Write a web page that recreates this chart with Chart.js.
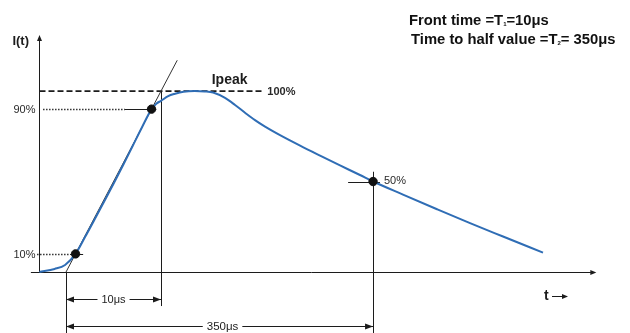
<!DOCTYPE html>
<html>
<head>
<meta charset="utf-8">
<script src="https://cdn.jsdelivr.net/npm/chart.js@4/dist/chart.umd.min.js"></script>
<style>
  html, body { margin: 0; padding: 0; background: #fff; }
  #c { display: block; }
</style>
</head>
<body>
<canvas id="c" width="630" height="333"></canvas>
<script>
// Impulse current waveform: time in μs (from the virtual origin), current in % of peak
const waveT = [-2.8, -1.2, -0.1, 1, 2, 3, 4, 5, 6, 7, 8, 9, 9.5, 10, 21.5, 32.5, 46, 64, 80, 93.5, 112.6, 128.7, 144.7, 160.7, 176.8, 200.8, 233, 265, 297, 329, 350, 398, 452.6, 505.5, 558.4, 622.5];
const waveI = [0, 1.7, 3.9, 10, 19.3, 29, 38.8, 48.8, 59, 69.5, 80, 90, 93, 94.6, 97.2, 98.5, 99.6, 100, 99.8, 99.2, 96.2, 92.3, 88.0, 83.9, 80.3, 75.6, 69.8, 64.3, 58.9, 53.6, 50, 42.8, 34.7, 27.0, 19.6, 10.7];

// Characteristic times
const virtualOrigin = 0;   // μs
const frontTime = 10;      // T1, μs
const halfTime = 350;      // T2, μs

// Reference levels (% of peak)
const levelLow = 10;
const levelHigh = 90;
const levelPeak = 100;
const levelHalf = 50;
const levelLabels = ['10%', '90%', '100%', '50%'];

// Marked points on the wave
const markerT = [1, 9, 350];
const markerI = [10, 90, 50];

// Front tangent through the 10% / 90% points, extended past the peak
const tangentT = [0, 10, 36];
const tangentI = [0, 100, 117];

// Title lines: [before subscript, subscript, after subscript]
const titleLine1 = ['Front time =T', '1', '=10μs'];
const titleLine2 = ['Time to half value =T', '2', '= 350μs'];

// The time axis is drawn schematically: the front is stretched, the tail compressed.
// Knots are [time value, fraction of the axis length].
const timeKnots = [[-6.95, 0], [10, 0.2556], [762, 1]];

function timeToDecimal(v) {
  const k = timeKnots;
  let i = 0;
  while (i < k.length - 2 && v > k[i + 1][0]) i++;
  const [v0, d0] = k[i], [v1, d1] = k[i + 1];
  return d0 + (v - v0) / (v1 - v0) * (d1 - d0);
}
function decimalToTime(d) {
  const k = timeKnots;
  let i = 0;
  while (i < k.length - 2 && d > k[i + 1][1]) i++;
  const [v0, d0] = k[i], [v1, d1] = k[i + 1];
  return v0 + (d - d0) / (d1 - d0) * (v1 - v0);
}

class PiecewiseTimeScale extends Chart.LinearScale {
  getPixelForValue(value) {
    return this.getPixelForDecimal(timeToDecimal(value));
  }
  getValueForPixel(pixel) {
    return decimalToTime(this.getDecimalForPixel(pixel));
  }
}
PiecewiseTimeScale.id = 'piecewiseTime';
PiecewiseTimeScale.defaults = Chart.LinearScale.defaults;
Chart.register(PiecewiseTimeScale);

const FONT = "'Liberation Sans', Arial, 'DejaVu Sans', sans-serif";
const INK = '#1c1c1c';

function snap(v) { return Math.round(v) + 0.5; }

function seg(ctx, x0, y0, x1, y1) {
  ctx.beginPath();
  ctx.moveTo(x0, y0);
  ctx.lineTo(x1, y1);
  ctx.stroke();
}

function arrowHead(ctx, x, y, dir, len, half) {
  ctx.beginPath();
  ctx.moveTo(x, y);
  if (dir === 'right') { ctx.lineTo(x - len, y - half); ctx.lineTo(x - len, y + half); }
  else if (dir === 'left') { ctx.lineTo(x + len, y - half); ctx.lineTo(x + len, y + half); }
  else { ctx.lineTo(x - half, y + len); ctx.lineTo(x + half, y + len); }
  ctx.closePath();
  ctx.fill();
}

function dimension(ctx, x0, x1, yy, label, font, shift) {
  ctx.font = font;
  const w = ctx.measureText(label).width;
  const cx = (x0 + x1) / 2 + (shift || 0);
  const gap = 4;
  const y = snap(yy);
  seg(ctx, x0, y, cx - w / 2 - gap, y);
  seg(ctx, cx + w / 2 + gap, y, x1, y);
  arrowHead(ctx, x0, y, 'left', 8, 3);
  arrowHead(ctx, x1, y, 'right', 8, 3);
  ctx.textAlign = 'center';
  ctx.textBaseline = 'middle';
  ctx.fillText(label, cx, y);
}

function subscriptLine(ctx, parts, x, y, size) {
  ctx.textAlign = 'left';
  ctx.textBaseline = 'alphabetic';
  ctx.font = 'bold ' + size + 'px ' + FONT;
  ctx.fillText(parts[0], x, y);
  x += ctx.measureText(parts[0]).width;
  ctx.font = 'bold ' + Math.round(size * 0.42) + 'px ' + FONT;
  ctx.fillText(parts[1], x, y + 1);
  x += ctx.measureText(parts[1]).width;
  ctx.font = 'bold ' + size + 'px ' + FONT;
  ctx.fillText(parts[2], x, y);
}

const axisT = waveT[0];

const construction = {
  id: 'construction',
  beforeDatasetsDraw(chart) {
    const { ctx, scales: { x, y } } = chart;
    const X = v => x.getPixelForValue(v);
    const Y = v => y.getPixelForValue(v);
    const bottom = y.getPixelForValue(y.min);
    ctx.save();
    ctx.strokeStyle = INK;
    ctx.fillStyle = INK;
    ctx.lineWidth = 1;

    // axes
    const ax = snap(X(axisT));
    const ay = snap(Y(0));
    seg(ctx, ax, ay, ax, Y(131) + 4);
    arrowHead(ctx, ax, Y(131), 'up', 6, 2.5);
    seg(ctx, X(-3.7), ay, X(708) - 4, ay);
    arrowHead(ctx, X(708), ay, 'right', 6, 2.5);

    // verticals at the virtual origin, T1 and T2
    seg(ctx, snap(X(virtualOrigin)), ay, snap(X(virtualOrigin)), bottom);
    seg(ctx, snap(X(frontTime)), Y(levelPeak), snap(X(frontTime)), Y(-18.8));
    seg(ctx, snap(X(halfTime)), Y(55.4), snap(X(halfTime)), bottom);

    // peak level, dashed
    ctx.lineWidth = 1.8;
    ctx.setLineDash([6, 3]);
    seg(ctx, ax, Y(levelPeak), X(174), Y(levelPeak));

    // 90% and 10% levels, dotted then solid near the point
    ctx.strokeStyle = '#333';
    ctx.lineWidth = 1.6;
    ctx.setLineDash([1.5, 1.5]);
    seg(ctx, X(-2.42), snap(Y(levelHigh)), X(6.2), snap(Y(levelHigh)));
    seg(ctx, X(-3.05), snap(Y(levelLow)), X(0.42), snap(Y(levelLow)));
    ctx.setLineDash([]);
    ctx.lineWidth = 1;
    ctx.strokeStyle = INK;
    seg(ctx, X(6.2), snap(Y(levelHigh)), X(9.5), snap(Y(levelHigh)));
    seg(ctx, X(0.42), snap(Y(levelLow)), X(1.8), snap(Y(levelLow)));
    seg(ctx, X(310), snap(Y(levelHalf)), X(361), snap(Y(levelHalf)));

    // time dimensions
    dimension(ctx, X(virtualOrigin), X(frontTime), Y(-14.9), frontTime + 'μs', '11px ' + FONT);
    dimension(ctx, X(virtualOrigin), X(halfTime), Y(-29.8), halfTime + 'μs', '11.5px ' + FONT, 3);
    ctx.restore();
  },
  afterDatasetsDraw(chart) {
    const { ctx, scales: { x, y } } = chart;
    const X = v => x.getPixelForValue(v);
    const Y = v => y.getPixelForValue(v);
    ctx.save();
    ctx.fillStyle = INK;
    ctx.strokeStyle = INK;
    const ax = X(axisT);

    // axis names
    ctx.textAlign = 'left';
    ctx.textBaseline = 'alphabetic';
    ctx.font = 'bold 13px ' + FONT;
    ctx.fillText('I(t)', ax - 27, Y(131) + 10);
    ctx.font = 'bold 14px ' + FONT;
    ctx.textBaseline = 'middle';
    ctx.fillText('t', 544, Y(-13.2));
    ctx.lineWidth = 1;
    seg(ctx, 552, snap(Y(-13.2)), 563, snap(Y(-13.2)));
    arrowHead(ctx, 568, snap(Y(-13.2)), 'right', 6, 2.5);

    // level labels
    ctx.fillStyle = '#2a2a2a';
    ctx.font = '11px ' + FONT;
    ctx.textAlign = 'right';
    ctx.fillText(levelLabels[0], ax - 4, Y(levelLow) + 1);
    ctx.fillText(levelLabels[1], ax - 4, Y(levelHigh) + 1);
    ctx.textAlign = 'left';
    ctx.fillText(levelLabels[3], X(361) + 4, Y(levelHalf) - 1);
    ctx.font = 'bold 11px ' + FONT;
    ctx.fillText(levelLabels[2], X(174) + 4, Y(levelPeak) + 0.5);

    ctx.fillStyle = INK;
    ctx.font = 'bold 14px ' + FONT;
    ctx.textAlign = 'center';
    ctx.textBaseline = 'alphabetic';
    ctx.fillText('Ipeak', X(120), Y(levelPeak) - 7);

    // title
    ctx.fillStyle = '#111';
    subscriptLine(ctx, titleLine1, 409, 25, 14.8);
    subscriptLine(ctx, titleLine2, 411, 44, 14.8);
    ctx.restore();
  }
};

const toPoints = (ts, vs) => ts.map((t, i) => ({ x: t, y: vs[i] }));

new Chart(document.getElementById('c'), {
  type: 'line',
  data: {
    datasets: [
      {
        label: 'markers',
        type: 'scatter',
        data: toPoints(markerT, markerI),
        pointRadius: 4.2,
        pointBackgroundColor: '#111',
        pointBorderColor: '#111',
        showLine: false,
        order: 0
      },
      {
        label: 'I(t)',
        data: toPoints(waveT, waveI),
        borderColor: '#2f6db5',
        borderWidth: 2,
        pointRadius: 0,
        cubicInterpolationMode: 'monotone',
        order: 1
      },
      {
        label: 'tangent',
        data: toPoints(tangentT, tangentI),
        borderColor: '#333',
        borderWidth: 1,
        pointRadius: 0,
        tension: 0,
        order: 2
      }
    ]
  },
  options: {
    responsive: false,
    animation: false,
    devicePixelRatio: 1,
    layout: { padding: 0, autoPadding: false },
    plugins: { legend: { display: false }, tooltip: { enabled: false }, title: { display: false } },
    scales: {
      x: { type: 'piecewiseTime', min: -6.95, max: 762, display: false },
      y: { type: 'linear', min: -33.7, max: 150.3, display: false }
    }
  },
  plugins: [construction]
});
</script>
</body>
</html>
